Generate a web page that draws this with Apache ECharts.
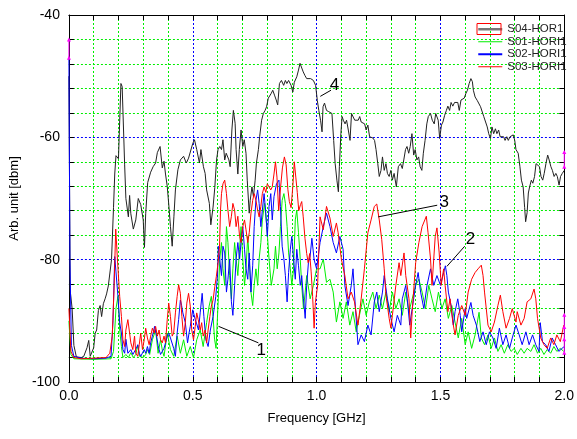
<!DOCTYPE html>
<html>
<head>
<meta charset="utf-8">
<script src="https://cdn.jsdelivr.net/npm/echarts@6/dist/echarts.min.js"></script>
<style>
  html, body { margin: 0; padding: 0; background: #fff; }
  #chart { width: 577px; height: 439px; }
</style>
</head>
<body>
<div id="chart"></div>
<script>
// tick labels
var xTicks = ['0.0', '0.5', '1.0', '1.5', '2.0'];
var yTicks = [-100, -80, -60, -40];
var names = ['S04-HOR1', 'S01-HORI1', 'S02-HORI1', 'S03-HORI1'];

// S04 (black), [GHz, dbm]
var s04 = [
  [0,-50],[0.005,-85],[0.013,-88],[0.02,-94],[0.03,-95.9],[0.05,-96],[0.06,-95.8],[0.073,-94.4],[0.08,-93.2],[0.086,-95.8],
  [0.093,-96],[0.1,-94.4],[0.106,-92],[0.112,-91.5],[0.119,-88.3],[0.126,-87.5],[0.132,-89.3],[0.139,-87.2],[0.146,-86.4],[0.152,-85.6],
  [0.159,-84.3],[0.165,-84],[0.172,-80],[0.18,-71.5],[0.185,-66],[0.19,-63],[0.2,-63.5],[0.21,-51.2],[0.215,-51.7],[0.225,-64.5],
  [0.23,-70],[0.24,-73],[0.245,-69.5],[0.25,-72.5],[0.26,-75],[0.27,-73.5],[0.28,-70],[0.29,-71],[0.3,-73.5],[0.305,-78],
  [0.31,-72.5],[0.318,-67.4],[0.33,-65.7],[0.34,-64.8],[0.35,-64.2],[0.357,-62.5],[0.368,-61.5],[0.377,-65],[0.384,-63.9],[0.39,-66],
  [0.397,-68],[0.404,-71.4],[0.41,-74.6],[0.417,-77.8],[0.424,-72.9],[0.43,-68.6],[0.44,-65.3],[0.45,-63.7],[0.463,-63.1],[0.474,-64.2],
  [0.483,-63.4],[0.49,-63.7],[0.5,-61],[0.507,-60.4],[0.516,-62],[0.527,-64.2],[0.533,-62],[0.543,-64.8],[0.55,-65.9],[0.556,-68.6],
  [0.567,-70.8],[0.573,-74.3],[0.582,-71.4],[0.589,-68.2],[0.596,-63.7],[0.602,-62],[0.609,-61.5],[0.616,-62],[0.622,-60.4],[0.629,-63.7],
  [0.635,-62.6],[0.646,-63.7],[0.651,-64.8],[0.658,-58.8],[0.664,-55.6],[0.671,-57.7],[0.675,-62],[0.682,-66],[0.688,-62],[0.695,-58.8],
  [0.702,-61.5],[0.708,-60.4],[0.715,-62.6],[0.72,-67],[0.728,-72.4],[0.732,-70.3],[0.739,-68.1],[0.745,-69.7],[0.752,-67],[0.757,-64.2],
  [0.765,-62],[0.77,-59.9],[0.778,-57.2],[0.785,-56.1],[0.792,-55.6],[0.798,-55],[0.805,-53.6],[0.81,-53.4],[0.817,-52.8],[0.823,-52.3],
  [0.83,-53.1],[0.837,-53.9],[0.843,-54.7],[0.85,-51.2],[0.858,-50.7],[0.867,-51.5],[0.874,-50.7],[0.88,-51.2],[0.887,-50.7],[0.897,-51.5],
  [0.904,-52.6],[0.91,-51],[0.92,-50.1],[0.927,-49],[0.933,-47.9],[0.94,-48.2],[0.946,-49.3],[0.953,-49.9],[0.96,-50.4],[0.966,-50.1],
  [0.976,-50.4],[0.987,-50.7],[0.996,-51.5],[1.003,-54],[1.009,-55.6],[1.016,-57.2],[1.022,-59.1],[1.026,-55],[1.032,-54.4],[1.04,-55.6],
  [1.049,-55.8],[1.055,-55.8],[1.062,-56.1],[1.069,-60.5],[1.075,-64.3],[1.082,-67],[1.088,-68.9],[1.092,-64.8],[1.098,-59.4],[1.103,-56.6],
  [1.108,-57.2],[1.115,-57.8],[1.121,-57.2],[1.128,-58.8],[1.135,-60.5],[1.141,-56.1],[1.148,-55.8],[1.154,-57.2],[1.161,-56.9],[1.168,-57.2],
  [1.174,-56.6],[1.18,-57.5],[1.187,-57.2],[1.194,-57.8],[1.2,-58.8],[1.207,-58],[1.214,-59.9],[1.22,-60],[1.227,-60.1],[1.234,-60.5],
  [1.24,-62],[1.247,-64.3],[1.253,-66.4],[1.26,-65.4],[1.266,-63.2],[1.273,-65.4],[1.28,-64.3],[1.286,-65.9],[1.293,-66.4],[1.3,-65.4],
  [1.306,-67],[1.313,-65.9],[1.322,-68.1],[1.33,-64.8],[1.339,-64.3],[1.346,-65.1],[1.352,-63.7],[1.359,-62],[1.365,-61.5],[1.372,-62.6],
  [1.378,-61.5],[1.385,-59.4],[1.392,-62.9],[1.398,-62],[1.405,-63.7],[1.412,-63.2],[1.418,-64.8],[1.425,-65.4],[1.431,-62.6],[1.438,-60.5],
  [1.445,-57.8],[1.451,-56.6],[1.46,-56.1],[1.467,-57.2],[1.475,-57.8],[1.481,-56.1],[1.491,-57.2],[1.497,-60.2],[1.504,-58],[1.51,-57.5],
  [1.517,-56.4],[1.524,-55.6],[1.53,-54.9],[1.537,-55.6],[1.543,-54.3],[1.55,-54.9],[1.557,-54.3],[1.563,-54.2],[1.57,-54.3],[1.576,-55.6],
  [1.583,-53.9],[1.59,-53.9],[1.596,-53.6],[1.603,-52.8],[1.609,-52.3],[1.616,-51.2],[1.623,-50.4],[1.629,-50.9],[1.633,-52.3],[1.64,-53.4],
  [1.649,-54],[1.662,-55],[1.675,-56.6],[1.689,-58.3],[1.695,-59.4],[1.702,-60.2],[1.708,-58.3],[1.715,-59.4],[1.722,-58.6],[1.728,-59.4],
  [1.735,-58.8],[1.741,-59.9],[1.748,-59.6],[1.755,-59.9],[1.761,-60.5],[1.768,-59.9],[1.774,-60.5],[1.781,-59.9],[1.787,-59.9],[1.794,-59.6],
  [1.8,-60.5],[1.805,-62],[1.814,-62.6],[1.821,-64.8],[1.827,-67],[1.834,-68.1],[1.84,-71.5],[1.844,-73.8],[1.85,-72.3],[1.855,-69.1],
  [1.86,-68.1],[1.867,-67],[1.873,-67.5],[1.88,-66.4],[1.886,-64.3],[1.893,-64.5],[1.9,-64.8],[1.906,-66.4],[1.913,-67],[1.919,-65.9],
  [1.926,-64.3],[1.933,-62.9],[1.939,-63.7],[1.946,-64.8],[1.952,-65.4],[1.959,-66.4],[1.966,-65.9],[1.972,-66.4],[1.979,-67.8],[1.985,-66.4],
  [1.992,-65.9],[2.0,-65.4]
];

// S01 (green)
var s01 = [
  [0,-90],[0.008,-95.5],[0.02,-96.2],[0.1,-96.3],[0.17,-96.2],[0.18,-95],[0.19,-88],[0.198,-86],[0.205,-91.5],[0.212,-94.2],
  [0.218,-96],[0.23,-95.5],[0.24,-96],[0.25,-95.2],[0.26,-96],[0.27,-95.5],[0.278,-94],[0.285,-95.8],[0.3,-96],[0.31,-95.5],
  [0.317,-94.7],[0.326,-95.5],[0.337,-93.1],[0.35,-91.5],[0.36,-95.3],[0.37,-93.1],[0.378,-95],[0.384,-95.8],[0.397,-92],[0.41,-94.7],
  [0.423,-95.8],[0.437,-92.5],[0.45,-95.3],[0.463,-93.1],[0.476,-95.8],[0.49,-94.2],[0.503,-96],[0.516,-93.1],[0.53,-91.5],[0.542,-94.2],
  [0.556,-90.3],[0.566,-87.6],[0.575,-86],[0.582,-89.3],[0.588,-93],[0.594,-94.5],[0.598,-91],[0.603,-86.4],[0.609,-79.9],[0.616,-77.2],
  [0.622,-81.5],[0.629,-84.2],[0.636,-74.6],[0.642,-77.2],[0.649,-82.6],[0.656,-86.4],[0.662,-81.5],[0.669,-77.2],[0.675,-79.9],[0.682,-82.6],
  [0.689,-78.3],[0.695,-74.6],[0.702,-79.9],[0.709,-84.2],[0.715,-81.5],[0.722,-76.2],[0.728,-79.9],[0.735,-85.3],[0.742,-87.5],[0.748,-84.2],
  [0.755,-81.5],[0.762,-84.2],[0.768,-79.9],[0.775,-77.2],[0.781,-73.5],[0.79,-70.8],[0.799,-74.6],[0.808,-79.9],[0.817,-84.2],[0.828,-81.5],
  [0.834,-77.8],[0.841,-81.5],[0.848,-78.9],[0.854,-74.6],[0.861,-70.3],[0.868,-69.2],[0.874,-70.8],[0.881,-74.6],[0.887,-78.9],[0.894,-81.5],
  [0.9,-84.2],[0.907,-81.5],[0.914,-73.5],[0.92,-71.9],[0.927,-75.6],[0.934,-79.9],[0.94,-84.2],[0.947,-88],[0.954,-85.3],[0.96,-82.6],
  [0.974,-86.4],[0.987,-84.2],[1.0,-81.5],[1.014,-81.5],[1.027,-79.9],[1.04,-83.7],[1.054,-83.2],[1.067,-85.3],[1.08,-90.2],[1.094,-86.9],
  [1.107,-89.6],[1.12,-86.9],[1.134,-90.7],[1.147,-88.5],[1.16,-91.8],[1.173,-89.1],[1.187,-86.4],[1.2,-89.1],[1.213,-86.9],[1.227,-85.3],
  [1.24,-88],[1.253,-85.8],[1.266,-88],[1.28,-85.3],[1.293,-88.5],[1.306,-85.3],[1.32,-88],[1.333,-86.4],[1.346,-89.1],[1.36,-85.3],
  [1.373,-88.5],[1.386,-86.4],[1.4,-84.2],[1.413,-83.2],[1.426,-85.3],[1.44,-88],[1.453,-84.2],[1.466,-86.4],[1.479,-88.5],[1.492,-85.3],
  [1.506,-88],[1.519,-86.4],[1.532,-89.6],[1.546,-87.5],[1.559,-90.2],[1.572,-92.8],[1.586,-89.6],[1.6,-93.9],[1.612,-91.8],[1.626,-94.5],
  [1.64,-92.3],[1.656,-88.6],[1.665,-92.8],[1.678,-93.9],[1.692,-92.3],[1.705,-94.5],[1.718,-92.8],[1.732,-95],[1.745,-93.9],[1.758,-95.3],
  [1.772,-93.9],[1.785,-95],[1.798,-94.5],[1.81,-95.5],[1.825,-94.5],[1.838,-95.3],[1.85,-94.5],[1.865,-95],[1.878,-93.9],[1.892,-95.3],
  [1.905,-94.5],[1.918,-95.5],[1.931,-94.7],[1.945,-95.3],[1.958,-94.2],[1.97,-95],[1.984,-94.5],[1.998,-95]
];

// S02 (blue)
var s02 = [
  [0,-47],[0.004,-80],[0.01,-94],[0.02,-95.8],[0.05,-96.1],[0.1,-96.2],[0.15,-96.1],[0.17,-95.8],[0.178,-90],[0.185,-79.5],
  [0.19,-82],[0.198,-86],[0.205,-90.3],[0.212,-92],[0.218,-94.7],[0.225,-95.3],[0.23,-93],[0.238,-95.3],[0.245,-95.5],[0.25,-94.7],
  [0.258,-95.5],[0.265,-95.8],[0.272,-94.5],[0.278,-93.9],[0.284,-95.3],[0.29,-95.8],[0.297,-95.8],[0.304,-94.7],[0.31,-95.3],[0.317,-94.2],
  [0.324,-95.3],[0.33,-93.6],[0.337,-92.5],[0.346,-90.9],[0.354,-92.5],[0.36,-94],[0.364,-94.7],[0.37,-95.5],[0.377,-95.8],[0.384,-94.5],
  [0.39,-93.6],[0.397,-92.5],[0.403,-92],[0.41,-92.8],[0.417,-93.1],[0.423,-94.5],[0.43,-95.8],[0.437,-92],[0.443,-89.8],[0.45,-86.6],
  [0.455,-87.5],[0.46,-88.7],[0.47,-90.3],[0.479,-93.6],[0.485,-92],[0.49,-90.9],[0.5,-88.2],[0.51,-89.8],[0.516,-90.5],[0.523,-91.5],
  [0.53,-88.7],[0.538,-85.5],[0.545,-89.3],[0.553,-93.1],[0.562,-94.2],[0.571,-91.5],[0.582,-89.3],[0.593,-86],[0.6,-82.5],[0.603,-77.8],
  [0.609,-80],[0.616,-82.6],[0.622,-77.8],[0.629,-78.9],[0.636,-85.3],[0.642,-83.2],[0.649,-79.9],[0.656,-86.9],[0.662,-89.1],[0.669,-84.2],
  [0.675,-79.9],[0.682,-77.2],[0.689,-79.9],[0.695,-77.2],[0.702,-74.6],[0.709,-78.3],[0.715,-81.5],[0.722,-83.2],[0.728,-78.9],[0.735,-85.3],
  [0.742,-81],[0.748,-74.6],[0.755,-70.3],[0.762,-68.6],[0.768,-70.8],[0.775,-74.6],[0.781,-71.9],[0.788,-69.2],[0.795,-72.4],[0.801,-76.2],
  [0.808,-71.3],[0.815,-69.2],[0.821,-73.5],[0.828,-69.7],[0.838,-67.6],[0.848,-67],[0.854,-71.3],[0.861,-77.8],[0.868,-79.9],[0.874,-82.6],
  [0.881,-86.9],[0.887,-82.1],[0.894,-78.3],[0.9,-76.2],[0.907,-79.9],[0.914,-83.2],[0.92,-78.3],[0.927,-81],[0.934,-84.2],[0.94,-82.6],
  [0.947,-86.4],[0.954,-89.6],[0.96,-84.2],[0.967,-80.5],[0.974,-79.4],[0.981,-76.5],[0.99,-80],[1.0,-81.5],[1.014,-77.2],[1.027,-74.6],
  [1.04,-72.4],[1.054,-74.6],[1.067,-77.2],[1.08,-78.9],[1.094,-76.2],[1.107,-78.3],[1.114,-84.2],[1.127,-87.5],[1.14,-84.2],[1.147,-81.5],
  [1.157,-88],[1.167,-93.9],[1.18,-92.3],[1.193,-93.4],[1.207,-90.7],[1.22,-92.3],[1.233,-86.9],[1.243,-85.3],[1.253,-88.5],[1.266,-85.3],
  [1.273,-82.6],[1.286,-86.4],[1.3,-89.6],[1.313,-91.8],[1.326,-89.1],[1.34,-90.7],[1.346,-86.4],[1.36,-84.2],[1.366,-86.4],[1.376,-90.7],
  [1.386,-88],[1.4,-84.2],[1.41,-82.1],[1.42,-85.3],[1.433,-88],[1.446,-84.2],[1.46,-81.5],[1.473,-84.2],[1.486,-82.6],[1.5,-84.2],
  [1.513,-82.1],[1.52,-81],[1.526,-82.6],[1.532,-85.3],[1.543,-87.5],[1.552,-90.7],[1.559,-88.5],[1.57,-86.4],[1.58,-89.1],[1.586,-91.8],
  [1.6,-88],[1.606,-89.6],[1.623,-87],[1.632,-89.1],[1.645,-90.7],[1.659,-93.4],[1.672,-91.8],[1.685,-93.9],[1.698,-91.8],[1.712,-92.8],
  [1.725,-94.5],[1.738,-91.2],[1.752,-93.9],[1.765,-92.3],[1.779,-94.5],[1.79,-92.8],[1.805,-90.7],[1.818,-92.3],[1.83,-93.9],[1.845,-91.8],
  [1.858,-93.9],[1.872,-92.3],[1.885,-93.9],[1.898,-95],[1.903,-90.3],[1.912,-93.4],[1.925,-93.9],[1.938,-95],[1.951,-92.8],[1.965,-93.9],
  [1.978,-95],[1.991,-94.5],[2.0,-94.2]
];

// S03 (red)
var s03 = [
  [0,-88],[0.008,-95],[0.02,-96],[0.05,-96.2],[0.1,-96.1],[0.15,-96],[0.165,-95.3],[0.175,-92.5],[0.182,-85],[0.189,-75],
  [0.196,-80],[0.205,-86],[0.212,-89.3],[0.218,-93.1],[0.225,-94.2],[0.23,-91.5],[0.238,-89.8],[0.245,-92],[0.25,-93.6],[0.258,-94.7],
  [0.265,-92.5],[0.27,-95.3],[0.278,-95.8],[0.284,-93.9],[0.29,-92],[0.297,-94.7],[0.304,-93.1],[0.31,-91.2],[0.317,-92.8],[0.324,-93.9],
  [0.33,-92.5],[0.337,-91.2],[0.344,-92],[0.35,-90.9],[0.357,-92.5],[0.364,-91.5],[0.37,-93.1],[0.377,-93.6],[0.384,-92.5],[0.39,-93.6],
  [0.397,-89.8],[0.403,-87.1],[0.41,-89.3],[0.417,-92.5],[0.423,-92],[0.43,-88.7],[0.437,-86],[0.443,-84.1],[0.45,-85.5],[0.456,-89.3],
  [0.463,-92.5],[0.47,-90.3],[0.476,-87.1],[0.483,-85.5],[0.49,-87.6],[0.496,-91.5],[0.503,-93.1],[0.51,-90.9],[0.516,-88.7],[0.522,-89.8],
  [0.53,-91.5],[0.536,-90.3],[0.542,-92.5],[0.55,-91.5],[0.556,-93.6],[0.562,-91.5],[0.569,-89.3],[0.575,-87.6],[0.582,-86.6],[0.589,-84.4],
  [0.595,-82.8],[0.602,-80.6],[0.608,-77.9],[0.612,-72],[0.616,-69.2],[0.622,-67.6],[0.629,-67],[0.636,-69.2],[0.642,-71.9],[0.649,-74.6],
  [0.656,-72.9],[0.662,-70.8],[0.669,-71.9],[0.675,-74.6],[0.682,-72.9],[0.689,-76.2],[0.695,-77.2],[0.702,-74.6],[0.709,-73.5],[0.715,-75.1],
  [0.722,-77.2],[0.728,-75.6],[0.735,-72.4],[0.742,-70.3],[0.748,-69.2],[0.755,-70.3],[0.762,-71.9],[0.768,-73],[0.775,-71.3],[0.781,-69.2],
  [0.788,-68.1],[0.795,-69],[0.801,-67.6],[0.808,-67.6],[0.815,-68.6],[0.821,-68.1],[0.828,-66],[0.834,-64],[0.84,-66.5],[0.847,-72],
  [0.855,-68],[0.862,-65],[0.87,-63.2],[0.877,-64.5],[0.884,-68.5],[0.89,-70.5],[0.897,-71.5],[0.904,-68],[0.91,-64],[0.916,-66.5],
  [0.922,-69],[0.928,-72],[0.935,-71],[0.94,-70.5],[0.946,-73],[0.953,-76.5],[0.96,-79],[0.966,-80.5],[0.972,-79],[0.978,-82],
  [0.984,-86],[0.99,-91.2],[0.995,-87],[1.004,-84.3],[1.014,-73],[1.027,-75.1],[1.04,-71.3],[1.054,-73.2],[1.067,-76.2],[1.08,-74],
  [1.087,-75.6],[1.1,-79.9],[1.114,-82.6],[1.127,-86.4],[1.14,-85.3],[1.153,-86.9],[1.167,-90.7],[1.18,-86.4],[1.193,-81.5],[1.207,-75.6],
  [1.22,-73.5],[1.233,-71.3],[1.243,-70.9],[1.253,-73.5],[1.263,-76.7],[1.273,-81.5],[1.28,-85.8],[1.293,-89.6],[1.3,-91.2],[1.306,-89.1],
  [1.32,-84.2],[1.333,-80.5],[1.34,-82.6],[1.353,-78.9],[1.36,-82.6],[1.373,-86.4],[1.38,-92.8],[1.386,-88.5],[1.4,-80.5],[1.413,-77.2],
  [1.426,-74.6],[1.437,-73.5],[1.443,-72.9],[1.45,-75.6],[1.46,-79.9],[1.466,-84.2],[1.473,-79.9],[1.479,-76.2],[1.486,-74.8],[1.495,-78.9],
  [1.503,-84.2],[1.513,-81.5],[1.519,-84.2],[1.53,-88.5],[1.539,-86.4],[1.55,-90.2],[1.559,-92.3],[1.572,-89.1],[1.586,-87.5],[1.6,-89.1],
  [1.612,-85.3],[1.626,-83.2],[1.64,-82.1],[1.652,-81.5],[1.665,-80.9],[1.672,-82.6],[1.678,-85.3],[1.685,-88],[1.692,-90.7],[1.705,-91.8],
  [1.718,-90.2],[1.732,-87.5],[1.742,-85.8],[1.752,-88.5],[1.765,-91.2],[1.779,-89.6],[1.79,-88],[1.805,-90.2],[1.81,-88.5],[1.825,-90.7],
  [1.838,-89.6],[1.85,-86.9],[1.865,-86.4],[1.878,-84.8],[1.885,-86.4],[1.892,-89.6],[1.905,-92.8],[1.918,-93.9],[1.931,-94.5],[1.945,-92.8],
  [1.958,-93.9],[1.97,-92.3],[1.984,-93.4],[1.998,-90.7]
];

// magenta end markers on the frame
var magLeft = [[0,-44],[0,-47]];
var magRight = [[2,-62.4],[2,-64.8]];
var magLow = [[2,-89],[2,-91],[2,-93],[2,-95.2]];

// numbered callouts: leader line from -> to, label at
var notes = [
  { label: '4', from: [1.015,-53.3], to: [1.058,-52.3], at: [1.072,-51.5] },
  { label: '3', from: [1.249,-73.0], to: [1.487,-71.1], at: [1.515,-70.6] },
  { label: '2', from: [1.526,-81.1], to: [1.598,-77.8], at: [1.621,-76.7] },
  { label: '1', from: [0.604,-90.9], to: [0.765,-93.6], at: [0.776,-94.9] }
];

var font = 'Liberation Sans, Arial, sans-serif';
var chart = echarts.init(document.getElementById('chart'), null, { renderer: 'canvas' });

function magSeries(data) {
  return {
    type: 'line', data: data, symbol: 'triangle', symbolSize: 4,
    lineStyle: { color: '#ff00ff', width: 1 }, itemStyle: { color: '#ff00ff' },
    clip: false, silent: true, z: 5
  };
}

var option = {
  animation: false,
  backgroundColor: '#fff',
  grid: { left: 63, right: 10, top: 15, bottom: 57 },
  legend: {
    orient: 'vertical', left: 472, top: 18,
    itemWidth: 24, itemHeight: 10, itemGap: 0,
    itemStyle: { opacity: 0 },
    textStyle: { fontFamily: font, fontSize: 11.5, color: '#222', lineHeight: 12.5 },
    data: [
      { name: names[0], lineStyle: { color: '#777', width: 2.5 } },
      { name: names[1], lineStyle: { width: 1 } },
      { name: names[2], lineStyle: { width: 2 } },
      { name: names[3], lineStyle: { width: 1 } }
    ],
    selectedMode: false
  },
  graphic: [
    { type: 'rect', shape: { x: 477, y: 23.5, width: 24, height: 11 },
      style: { fill: 'none', stroke: '#ff0000', lineWidth: 1 }, z: 100 }
  ],
  xAxis: [
    {
      type: 'value', min: 0, max: 2, interval: 0.1, position: 'bottom',
      name: 'Frequency [GHz]', nameLocation: 'middle', nameGap: 30,
      nameTextStyle: { fontFamily: font, fontSize: 13, color: '#000' },
      axisLine: { show: true, onZero: false, lineStyle: { color: '#000', width: 1 } },
      axisTick: { show: true, inside: true, length: 5, lineStyle: { color: '#000' } },
      axisLabel: {
        fontFamily: font, fontSize: 14, color: '#000', margin: 7,
        formatter: function (v) { var s = v.toFixed(1); return xTicks.indexOf(s) >= 0 ? s : ''; }
      },
      splitLine: { show: true, lineStyle: { color: ['#0000ff', '#00ee00', '#00ee00', '#00ee00', '#00ee00'], type: [2, 2], width: 1 } }
    },
    {
      type: 'value', min: 0, max: 2, interval: 0.1, position: 'top',
      axisLine: { show: true, onZero: false, lineStyle: { color: '#000', width: 1 } },
      axisTick: { show: true, inside: true, length: 5, lineStyle: { color: '#000' } },
      axisLabel: { show: false }, splitLine: { show: false }
    }
  ],
  yAxis: [
    {
      type: 'value', min: -100, max: -40, interval: 4, position: 'left',
      name: 'Arb. unit [dbm]', nameLocation: 'middle', nameGap: 34,
      nameTextStyle: { fontFamily: font, fontSize: 13, color: '#000' },
      axisLine: { show: true, onZero: false, lineStyle: { color: '#000', width: 1 } },
      axisTick: { show: true, inside: true, length: 5, lineStyle: { color: '#000' } },
      axisLabel: {
        fontFamily: font, fontSize: 14, color: '#000', margin: 9,
        formatter: function (v) { return yTicks.indexOf(v) >= 0 ? String(v) : ''; }
      },
      splitLine: { show: true, lineStyle: { color: ['#0000ff', '#00ee00', '#00ee00', '#00ee00', '#00ee00'], type: [2, 2], width: 1 } }
    },
    {
      type: 'value', min: -100, max: -40, interval: 4, position: 'right',
      axisLine: { show: true, onZero: false, lineStyle: { color: '#000', width: 1 } },
      axisTick: { show: true, inside: true, length: 5, lineStyle: { color: '#000' } },
      axisLabel: { show: false }, splitLine: { show: false }
    }
  ],
  series: [
    {
      name: names[0], type: 'line', data: s04, symbol: 'none',
      lineStyle: { color: '#222', width: 1 }, itemStyle: { color: '#222' },
      markLine: {
        silent: true, symbol: ['none', 'none'], label: { show: false },
        lineStyle: { color: '#000', width: 1, type: 'solid' },
        data: notes.map(function (n) { return [{ coord: n.from }, { coord: n.to }]; })
      },
      markPoint: {
        silent: true, symbol: 'rect', symbolSize: 1, itemStyle: { color: 'rgba(0,0,0,0)' },
        label: { show: true, position: 'inside', fontFamily: font, fontSize: 17, color: '#000',
                 formatter: function (p) { return p.name; } },
        data: notes.map(function (n) { return { name: n.label, coord: n.at }; })
      }
    },
    { name: names[1], type: 'line', data: s01, symbol: 'none',
      lineStyle: { color: '#00ee00', width: 1 }, itemStyle: { color: '#00ee00' } },
    { name: names[2], type: 'line', data: s02, symbol: 'none',
      lineStyle: { color: '#0000ff', width: 1 }, itemStyle: { color: '#0000ff' } },
    { name: names[3], type: 'line', data: s03, symbol: 'none',
      lineStyle: { color: '#ff0000', width: 1 }, itemStyle: { color: '#ff0000' } },
    magSeries(magLeft), magSeries(magRight), magSeries(magLow)
  ]
};

chart.setOption(option);
window.addEventListener('resize', chart.resize);
</script>
</body>
</html>
